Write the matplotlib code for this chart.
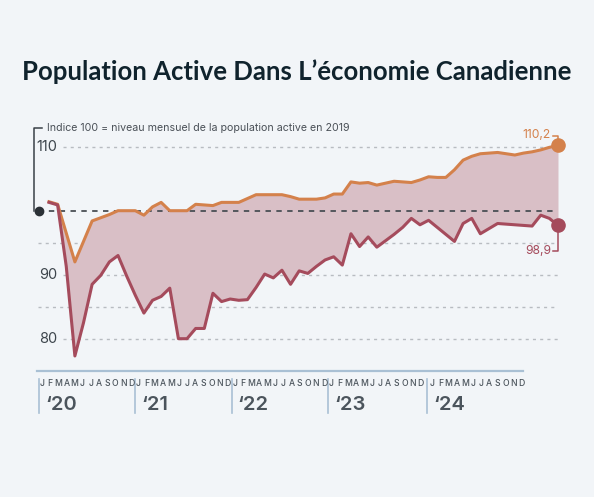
import numpy as np
import matplotlib.pyplot as plt

# valeurs (indice, 2019 = 100), janvier 2020 -> décembre 2024
mois = list(range(60))
serie_haute = [101.4, 101.0, 96.5, 92.0, 95.2, 98.4, 98.9, 99.4, 100.0, 100.0,
               100.0, 99.3, 100.6, 101.3, 100.0, 100.0, 100.0, 101.0, 100.9, 100.8,
               101.3, 101.3, 101.3, 101.9, 102.5, 102.5, 102.5, 102.5, 102.2, 101.8,
               101.8, 101.8, 102.0, 102.6, 102.6, 104.5, 104.3, 104.4, 104.0, 104.3,
               104.6, 104.5, 104.4, 104.8, 105.3, 105.2, 105.2, 106.4, 107.9, 108.5,
               108.9, 109.0, 109.1, 108.9, 108.7, 109.0, 109.2, 109.5, 109.9, 110.2]
serie_basse = [101.3, 100.9, 91.3, 77.3, 82.5, 88.5, 89.9, 92.0, 93.0, 89.8,
               86.8, 84.0, 86.0, 86.6, 87.9, 80.0, 80.0, 81.6, 81.6, 87.1,
               85.8, 86.2, 86.0, 86.1, 88.0, 90.1, 89.5, 90.7, 88.5, 90.6,
               90.2, 91.3, 92.3, 92.8, 91.5, 96.4, 94.4, 95.9, 94.3, 95.3,
               96.3, 97.4, 98.8, 97.8, 98.5, 97.4, 96.3, 95.2, 98.0, 98.8,
               96.4, 97.2, 98.0, 97.9, 97.8, 97.7, 97.6, 99.3, 98.8, 97.7]
niveaux_grille = [110, 95, 90, 85, 80]
etiquettes_y = [110, 90, 80]
lettres_mois = list("JFMAMJJASOND")
annees = ["‘20", "‘21", "‘22", "‘23", "‘24"]
texte_fin_haut = "110,2"
texte_fin_bas = "98,9"

fond = "#f2f5f8"
orange = "#d4814b"
rouge = "#a54b5c"
remplissage = "#d9bfc6"
gris_texte = "#4b545c"

W, H = 594, 497
fig = plt.figure(figsize=(W / 100, H / 100), dpi=100, facecolor=fond)
ax = fig.add_axes([0, 0, 1, 1])
ax.set_facecolor(fond)
# 1 mois = 8.627 px, x=0 -> 49 px ; 1 point = 6.4 px, 100 -> 210.7 px
ax.set_xlim((0 - 49) / 8.627, (W - 49) / 8.627)
ax.set_ylim(100 - (H - 210.7) / 6.4, 100 + 210.7 / 6.4)
ax.axis("off")


def fx(px):
    return px / W


def fy(py):
    return 1 - py / H


x_gauche = (38 - 49) / 8.627
x_etiq = (63 - 49) / 8.627

# grille
for niv in niveaux_grille:
    debut = x_etiq if niv in etiquettes_y else x_gauche
    ax.plot([debut, 59], [niv, niv], color="#b8bcc1", lw=1,
            linestyle=(0, (2.2, 3)), zorder=1)
for niv in etiquettes_y:
    fig.text(fx(57), fy(210.7 - (niv - 100) * 6.4), str(niv), ha="right",
             va="center", fontsize=10.5, color="#3e464d", family="Inter")

# zone entre les deux séries
ax.fill_between(mois, serie_basse, serie_haute, color=remplissage, lw=0, zorder=2)
ax.plot([x_gauche, 59], [100, 100], color="#4a4f55", lw=1.3,
        linestyle=(0, (3, 3)), zorder=3)
ax.plot(mois, serie_haute, color=orange, lw=2.2, zorder=4, solid_joinstyle="round")
ax.plot(mois, serie_basse, color=rouge, lw=2.2, zorder=4, solid_joinstyle="round")
ax.plot([mois[-1]], [serie_haute[-1]], "o", color=orange, ms=9.5, zorder=5)
ax.plot([mois[-1]], [serie_basse[-1]], "o", color=rouge, ms=9.5, zorder=5)
ax.plot([x_gauche + 0.1], [100], "o", color="#2b3136", ms=6, zorder=5)

# annotation indice 100
fig.add_artist(plt.Line2D([fx(33.5), fx(33.5), fx(41.5)],
                          [fy(210.7), fy(127.5), fy(127.5)],
                          color="#3a4047", lw=1.1))
fig.text(fx(47), fy(127.5), "Indice 100 = niveau mensuel de la population active en 2019",
         ha="left", va="center", fontsize=7.65, color="#4a5057", family="Inter")

# annotations de fin
fig.add_artist(plt.Line2D([fx(553), fx(558), fx(558)],
                          [fy(135.5), fy(135.5), fy(146)], color=orange, lw=1.1))
fig.text(fx(551), fy(135), texte_fin_haut, ha="right", va="center",
         fontsize=8.7, color=orange, family="Inter")
fig.add_artist(plt.Line2D([fx(558), fx(558), fx(553)],
                          [fy(226), fy(251), fy(251)], color=rouge, lw=1.1))
fig.text(fx(551), fy(250.5), texte_fin_bas, ha="right", va="center",
         fontsize=8.7, color=rouge, family="Inter")

# axe des temps
fig.add_artist(plt.Line2D([fx(37), fx(523)], [fy(371), fy(371)],
                          color="#a9c0d4", lw=1.6))
debuts_annee = [39, 135.3, 231.7, 328, 427.3]
premier_j = [42, 138.3, 234.7, 331.5, 432.3]
for k, an in enumerate(annees):
    fig.add_artist(plt.Line2D([fx(debuts_annee[k]), fx(debuts_annee[k])],
                              [fy(379), fy(413)], color="#a9c0d4", lw=1.2))
    for m, lettre in enumerate(lettres_mois):
        fig.text(fx(premier_j[k] + m * 8.12), fy(383.5), lettre, ha="center",
                 va="center", fontsize=6.2, color=gris_texte, family="Inter",
                 fontweight="medium")
    fig.text(fx(debuts_annee[k] + 6), fy(405), an, ha="left", va="center",
             fontsize=14.5, color=gris_texte, family="Inter", fontweight="semibold")

fig.text(0.5, fy(72), "Population Active Dans L’économie Canadienne", ha="center",
         va="center", fontsize=18.5, fontweight="bold", color="#10232d", family="Lato")

plt.savefig("out.png", dpi=100, facecolor=fond)
